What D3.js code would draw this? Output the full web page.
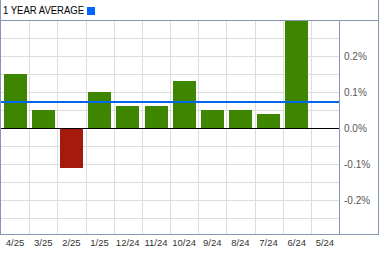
<!DOCTYPE html>
<html lang="en">
<head>
    <meta charset="UTF-8">
    <title>1 Year Average</title>
    <style>
        body {
            margin: 0;
            padding: 0;
            overflow: hidden;
            background: #fff;
            font-family: Arial, "Liberation Sans", sans-serif;
        }
        .grid line {
            stroke: #dddddd;
            stroke-width: 1px;
        }
        .frame {
            stroke: #8797b3;
            stroke-width: 1px;
        }
        .xlabel {
            font-size: 9.5px;
            fill: #333;
        }
        .ylabel {
            font-size: 10px;
            fill: #555;
        }
    </style>
    <script src="https://d3js.org/d3.v7.min.js"></script>
</head>
<body>
    <div id="chart"></div>
    <script>
        // Monthly values (%)
        const months = ['4/25', '3/25', '2/25', '1/25', '12/24', '11/24', '10/24', '9/24', '8/24', '7/24', '6/24', '5/24'];
        const values = [0.15, 0.05, -0.11, 0.10, 0.06, 0.06, 0.13, 0.05, 0.05, 0.04, 0.32, null];
        const average = 0.072;
        const yTicks = [0.2, 0.1, 0.0, -0.1, -0.2];

        const width = 379, height = 255;
        const plotLeft = 1, plotRight = 339, plotTop = 20, plotBottom = 234;

        const svg = d3.select('#chart')
            .append('svg')
            .attr('width', width)
            .attr('height', height);

        const x = d3.scaleBand()
            .domain(months)
            .range([plotLeft, plotRight])
            .paddingInner(0.2)
            .paddingOuter(0.1);

        const y = d3.scaleLinear()
            .domain([-0.3, 0.3])
            .range([236, plotTop]);

        svg.append('clipPath').attr('id', 'plot-clip')
            .append('rect')
            .attr('x', plotLeft).attr('y', plotTop)
            .attr('width', plotRight - plotLeft).attr('height', plotBottom - plotTop);

        // grid
        const grid = svg.append('g').attr('class', 'grid');
        const step = x.step();
        grid.selectAll('.vline')
            .data(months.slice(1))
            .enter().append('line')
            .attr('x1', d => Math.round(x(d) - step * 0.1) + 0.5)
            .attr('x2', d => Math.round(x(d) - step * 0.1) + 0.5)
            .attr('y1', plotTop)
            .attr('y2', plotBottom);
        grid.selectAll('.hline')
            .data(d3.range(-5, 6).map(i => i * 0.05))
            .enter().append('line')
            .attr('x1', plotLeft)
            .attr('x2', plotRight)
            .attr('y1', d => Math.round(y(d)) + 0.5)
            .attr('y2', d => Math.round(y(d)) + 0.5);

        // bars
        const plot = svg.append('g').attr('clip-path', 'url(#plot-clip)');
        plot.selectAll('.bar')
            .data(months.map((m, i) => ({ m: m, v: values[i] })).filter(d => d.v !== null))
            .enter().append('rect')
            .attr('x', d => Math.round(x(d.m)))
            .attr('width', Math.round(x.bandwidth()))
            .attr('y', d => Math.round(y(Math.max(0, d.v))))
            .attr('height', d => Math.round(Math.abs(y(d.v) - y(0))))
            .attr('fill', d => d.v >= 0 ? '#3f8600' : '#a51a0c');

        // zero line
        svg.append('line')
            .attr('x1', plotLeft).attr('x2', plotRight)
            .attr('y1', Math.round(y(0)) + 0.5).attr('y2', Math.round(y(0)) + 0.5)
            .attr('stroke', '#000');

        // average line
        svg.append('line')
            .attr('x1', plotLeft).attr('x2', plotRight)
            .attr('y1', y(average)).attr('y2', y(average))
            .attr('stroke', '#0066ee')
            .attr('stroke-width', 2);

        // frame
        svg.append('line').attr('class', 'frame')
            .attr('x1', 0.5).attr('x2', 0.5).attr('y1', 0).attr('y2', plotBottom + 0.5);
        svg.append('line').attr('class', 'frame')
            .attr('x1', width - 0.5).attr('x2', width - 0.5).attr('y1', 0).attr('y2', plotBottom + 0.5);
        svg.append('line').attr('class', 'frame')
            .attr('x1', 0).attr('x2', width).attr('y1', plotTop + 0.5).attr('y2', plotTop + 0.5);
        svg.append('line').attr('class', 'frame')
            .attr('x1', 0).attr('x2', width).attr('y1', plotBottom + 0.5).attr('y2', plotBottom + 0.5);
        svg.append('line').attr('class', 'frame')
            .attr('x1', plotRight + 0.5).attr('x2', plotRight + 0.5).attr('y1', plotTop).attr('y2', plotBottom);

        // header
        svg.append('text')
            .attr('x', 3).attr('y', 14)
            .attr('font-size', '10px')
            .attr('fill', '#000')
            .attr('textLength', 81)
            .attr('lengthAdjust', 'spacingAndGlyphs')
            .text('1 YEAR AVERAGE');
        svg.append('rect')
            .attr('x', 87).attr('y', 7)
            .attr('width', 8).attr('height', 8)
            .attr('fill', '#0066ff');

        // y labels
        svg.selectAll('.ylabel')
            .data(yTicks)
            .enter().append('text')
            .attr('class', 'ylabel')
            .attr('x', 344)
            .attr('y', d => y(d) + 3.5)
            .text(d => d.toFixed(1) + '%');

        // x labels
        svg.selectAll('.xlabel')
            .data(months)
            .enter().append('text')
            .attr('class', 'xlabel')
            .attr('text-anchor', 'middle')
            .attr('x', d => x(d) + x.bandwidth() / 2)
            .attr('y', 246)
            .text(d => d);
    </script>
</body>
</html>
